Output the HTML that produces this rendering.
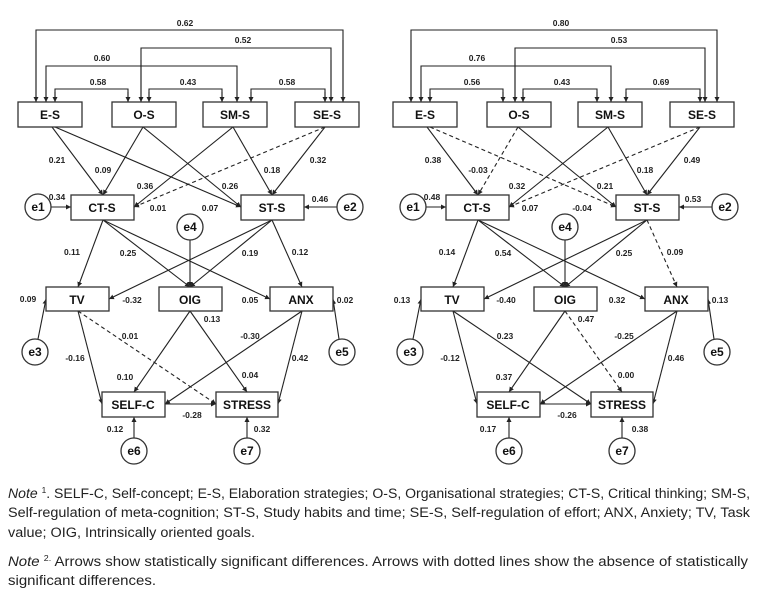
<!DOCTYPE html>
<html><head><meta charset="utf-8"><style>
body{margin:0;background:#fff;width:762px;height:605px;overflow:hidden}
svg{display:block}
.b{fill:#fff;stroke:#333;stroke-width:1.3}
.l{stroke:#222;stroke-width:1.1;fill:none;marker-end:url(#a)}
.d{stroke:#222;stroke-width:1.1;fill:none;stroke-dasharray:4 3;marker-end:url(#a)}
.br{stroke:#222;stroke-width:1.1;fill:none}
.n{font:bold 12px "Liberation Sans",sans-serif;text-anchor:middle;fill:#111}
.v{font:bold 8.5px "Liberation Sans",sans-serif;text-anchor:middle;fill:#222}
.t{font:13.5px "Liberation Sans",sans-serif;fill:#222}
</style></head><body>
<svg width="762" height="605" viewBox="0 0 762 605">
<defs><marker id="a" markerWidth="6" markerHeight="6" refX="5" refY="3" orient="auto" markerUnits="userSpaceOnUse"><path d="M0,0.5 L5,3 L0,5.5z" fill="#222"/></marker></defs>

<path class="br" d="M36,102V30H343V102"/><path class="l" d="M36,40V102"/><path class="l" d="M343,40V102"/>
<path class="br" d="M141,102V48H331V102"/><path class="l" d="M141,60V102"/><path class="l" d="M331,60V102"/>
<path class="br" d="M46,102V66H237V102"/><path class="l" d="M46,80V102"/><path class="l" d="M237,80V102"/>
<path class="br" d="M55,102V89H128V102"/><path class="l" d="M55,92V102"/><path class="l" d="M128,92V102"/>
<path class="br" d="M149,102V89H222V102"/><path class="l" d="M149,92V102"/><path class="l" d="M222,92V102"/>
<path class="br" d="M251,102V89H325V102"/><path class="l" d="M251,92V102"/><path class="l" d="M325,92V102"/>
<text class="v" x="185" y="26">0.62</text><text class="v" x="243" y="43">0.52</text><text class="v" x="102" y="61">0.60</text>
<text class="v" x="98" y="85">0.58</text><text class="v" x="188" y="85">0.43</text><text class="v" x="287" y="85">0.58</text>

<path class="l" d="M52,127L103,195"/><path class="l" d="M55,127L241,207"/>
<path class="l" d="M143,127L103,195"/><path class="l" d="M143,127L241,207"/>
<path class="l" d="M233,127L134,207"/><path class="l" d="M233,127L272,195"/>
<path class="d" d="M325,127L134,207"/><path class="l" d="M325,127L272,195"/>
<path class="l" d="M103,220L78,287"/><path class="l" d="M103,220L190,287"/><path class="l" d="M103,220L270,299"/>
<path class="l" d="M272,220L109,299"/><path class="l" d="M272,220L190,287"/><path class="l" d="M272,220L302,287"/>
<path class="l" d="M190,240L190,287"/>
<path class="l" d="M78,311L102,404"/><path class="d" d="M78,311L216,404"/>
<path class="l" d="M190,311L134,392"/><path class="l" d="M190,311L247,392"/>
<path class="l" d="M302,311L165,404"/><path class="l" d="M302,311L278,404"/>
<path class="l" d="M165,404L216,404"/>
<path class="l" d="M51,207L71,207"/><path class="l" d="M337,207L304,207"/>
<path class="l" d="M38,339L46,299"/><path class="l" d="M339,339L333,299"/>
<path class="l" d="M134,438L134,417"/><path class="l" d="M247,438L247,417"/>

<rect class="b" x="18" y="102" width="64" height="25"/><text class="n" x="50" y="119">E-S</text>
<rect class="b" x="112" y="102" width="64" height="25"/><text class="n" x="144" y="119">O-S</text>
<rect class="b" x="203" y="102" width="64" height="25"/><text class="n" x="235" y="119">SM-S</text>
<rect class="b" x="295" y="102" width="64" height="25"/><text class="n" x="327" y="119">SE-S</text>
<rect class="b" x="71" y="195" width="63" height="25"/><text class="n" x="102" y="212">CT-S</text>
<rect class="b" x="241" y="195" width="63" height="25"/><text class="n" x="272" y="212">ST-S</text>
<rect class="b" x="46" y="287" width="63" height="24"/><text class="n" x="77" y="304">TV</text>
<rect class="b" x="159" y="287" width="63" height="24"/><text class="n" x="190" y="304">OIG</text>
<rect class="b" x="270" y="287" width="63" height="24"/><text class="n" x="301" y="304">ANX</text>
<rect class="b" x="102" y="392" width="63" height="25"/><text class="n" x="133" y="409">SELF-C</text>
<rect class="b" x="216" y="392" width="62" height="25"/><text class="n" x="247" y="409">STRESS</text>
<circle class="b" cx="38" cy="207" r="13"/><text class="n" x="38" y="211">e1</text>
<circle class="b" cx="350" cy="207" r="13"/><text class="n" x="350" y="211">e2</text>
<circle class="b" cx="190" cy="227" r="13"/><text class="n" x="190" y="231">e4</text>
<circle class="b" cx="35" cy="352" r="13"/><text class="n" x="35" y="356">e3</text>
<circle class="b" cx="342" cy="352" r="13"/><text class="n" x="342" y="356">e5</text>
<circle class="b" cx="134" cy="451" r="13"/><text class="n" x="134" y="455">e6</text>
<circle class="b" cx="247" cy="451" r="13"/><text class="n" x="247" y="455">e7</text>

<text class="v" x="57" y="163">0.21</text><text class="v" x="103" y="173">0.09</text><text class="v" x="145" y="189">0.36</text>
<text class="v" x="230" y="189">0.26</text><text class="v" x="272" y="173">0.18</text><text class="v" x="318" y="163">0.32</text>
<text class="v" x="57" y="200">0.34</text><text class="v" x="158" y="211">0.01</text><text class="v" x="210" y="211">0.07</text><text class="v" x="320" y="202">0.46</text>
<text class="v" x="72" y="255">0.11</text><text class="v" x="128" y="256">0.25</text><text class="v" x="250" y="256">0.19</text><text class="v" x="300" y="255">0.12</text>
<text class="v" x="28" y="302">0.09</text><text class="v" x="132" y="303">-0.32</text><text class="v" x="250" y="303">0.05</text><text class="v" x="345" y="303">0.02</text>
<text class="v" x="212" y="322">0.13</text><text class="v" x="130" y="339">0.01</text><text class="v" x="250" y="339">-0.30</text>
<text class="v" x="75" y="361">-0.16</text><text class="v" x="300" y="361">0.42</text><text class="v" x="125" y="380">0.10</text><text class="v" x="250" y="378">0.04</text>
<text class="v" x="192" y="418">-0.28</text><text class="v" x="115" y="432">0.12</text><text class="v" x="262" y="432">0.32</text>

<path class="br" d="M411,102V30H717V102"/><path class="l" d="M411,40V102"/><path class="l" d="M717,40V102"/>
<path class="br" d="M515,102V48H705V102"/><path class="l" d="M515,60V102"/><path class="l" d="M705,60V102"/>
<path class="br" d="M421,102V66H611V102"/><path class="l" d="M421,80V102"/><path class="l" d="M611,80V102"/>
<path class="br" d="M430,102V89H503V102"/><path class="l" d="M430,92V102"/><path class="l" d="M503,92V102"/>
<path class="br" d="M523,102V89H597V102"/><path class="l" d="M523,92V102"/><path class="l" d="M597,92V102"/>
<path class="br" d="M626,102V89H700V102"/><path class="l" d="M626,92V102"/><path class="l" d="M700,92V102"/>
<text class="v" x="561" y="26">0.80</text><text class="v" x="619" y="43">0.53</text><text class="v" x="477" y="61">0.76</text>
<text class="v" x="472" y="85">0.56</text><text class="v" x="562" y="85">0.43</text><text class="v" x="661" y="85">0.69</text>

<g transform="translate(375,0)">
<path class="l" d="M52,127L103,195"/><path class="d" d="M55,127L241,207"/>
<path class="d" d="M143,127L103,195"/><path class="l" d="M143,127L241,207"/>
<path class="l" d="M233,127L134,207"/><path class="l" d="M233,127L272,195"/>
<path class="d" d="M325,127L134,207"/><path class="l" d="M325,127L272,195"/>
<path class="l" d="M103,220L78,287"/><path class="l" d="M103,220L190,287"/><path class="l" d="M103,220L270,299"/>
<path class="l" d="M272,220L109,299"/><path class="l" d="M272,220L190,287"/><path class="d" d="M272,220L302,287"/>
<path class="l" d="M190,240L190,287"/>
<path class="l" d="M78,311L102,404"/><path class="l" d="M78,311L216,404"/>
<path class="l" d="M190,311L134,392"/><path class="d" d="M190,311L247,392"/>
<path class="l" d="M302,311L165,404"/><path class="l" d="M302,311L278,404"/>
<path class="l" d="M165,404L216,404"/>
<path class="l" d="M51,207L71,207"/><path class="l" d="M337,207L304,207"/>
<path class="l" d="M38,339L46,299"/><path class="l" d="M339,339L333,299"/>
<path class="l" d="M134,438L134,417"/><path class="l" d="M247,438L247,417"/>
<rect class="b" x="18" y="102" width="64" height="25"/><text class="n" x="50" y="119">E-S</text>
<rect class="b" x="112" y="102" width="64" height="25"/><text class="n" x="144" y="119">O-S</text>
<rect class="b" x="203" y="102" width="64" height="25"/><text class="n" x="235" y="119">SM-S</text>
<rect class="b" x="295" y="102" width="64" height="25"/><text class="n" x="327" y="119">SE-S</text>
<rect class="b" x="71" y="195" width="63" height="25"/><text class="n" x="102" y="212">CT-S</text>
<rect class="b" x="241" y="195" width="63" height="25"/><text class="n" x="272" y="212">ST-S</text>
<rect class="b" x="46" y="287" width="63" height="24"/><text class="n" x="77" y="304">TV</text>
<rect class="b" x="159" y="287" width="63" height="24"/><text class="n" x="190" y="304">OIG</text>
<rect class="b" x="270" y="287" width="63" height="24"/><text class="n" x="301" y="304">ANX</text>
<rect class="b" x="102" y="392" width="63" height="25"/><text class="n" x="133" y="409">SELF-C</text>
<rect class="b" x="216" y="392" width="62" height="25"/><text class="n" x="247" y="409">STRESS</text>
<circle class="b" cx="38" cy="207" r="13"/><text class="n" x="38" y="211">e1</text>
<circle class="b" cx="350" cy="207" r="13"/><text class="n" x="350" y="211">e2</text>
<circle class="b" cx="190" cy="227" r="13"/><text class="n" x="190" y="231">e4</text>
<circle class="b" cx="35" cy="352" r="13"/><text class="n" x="35" y="356">e3</text>
<circle class="b" cx="342" cy="352" r="13"/><text class="n" x="342" y="356">e5</text>
<circle class="b" cx="134" cy="451" r="13"/><text class="n" x="134" y="455">e6</text>
<circle class="b" cx="247" cy="451" r="13"/><text class="n" x="247" y="455">e7</text>
</g>

<text class="v" x="433" y="163">0.38</text><text class="v" x="478" y="173">-0.03</text><text class="v" x="517" y="189">0.32</text>
<text class="v" x="605" y="189">0.21</text><text class="v" x="645" y="173">0.18</text><text class="v" x="692" y="163">0.49</text>
<text class="v" x="432" y="200">0.48</text><text class="v" x="530" y="211">0.07</text><text class="v" x="582" y="211">-0.04</text><text class="v" x="693" y="202">0.53</text>
<text class="v" x="447" y="255">0.14</text><text class="v" x="503" y="256">0.54</text><text class="v" x="624" y="256">0.25</text><text class="v" x="675" y="255">0.09</text>
<text class="v" x="402" y="303">0.13</text><text class="v" x="506" y="303">-0.40</text><text class="v" x="617" y="303">0.32</text><text class="v" x="720" y="303">0.13</text>
<text class="v" x="586" y="322">0.47</text><text class="v" x="505" y="339">0.23</text><text class="v" x="624" y="339">-0.25</text>
<text class="v" x="450" y="361">-0.12</text><text class="v" x="676" y="361">0.46</text><text class="v" x="504" y="380">0.37</text><text class="v" x="626" y="378">0.00</text>
<text class="v" x="567" y="418">-0.26</text><text class="v" x="488" y="432">0.17</text><text class="v" x="640" y="432">0.38</text>

<text class="t" x="8" y="498" textLength="742" lengthAdjust="spacingAndGlyphs"><tspan font-style="italic">Note</tspan> <tspan font-size="8" dy="-5">1</tspan><tspan dy="5">. SELF-C, Self-concept; E-S, Elaboration strategies; O-S, Organisational strategies; CT-S, Critical thinking; SM-S,</tspan></text>
<text class="t" x="8" y="517" textLength="742" lengthAdjust="spacingAndGlyphs">Self-regulation of meta-cognition; ST-S, Study habits and time; SE-S, Self-regulation of effort; ANX, Anxiety; TV, Task</text>
<text class="t" x="8" y="537" textLength="247" lengthAdjust="spacingAndGlyphs">value; OIG, Intrinsically oriented goals.</text>
<text class="t" x="8" y="566" textLength="740" lengthAdjust="spacingAndGlyphs"><tspan font-style="italic">Note</tspan> <tspan font-size="8" dy="-5">2.</tspan><tspan dy="5"> Arrows show statistically significant differences. Arrows with dotted lines show the absence of statistically</tspan></text>
<text class="t" x="8" y="585" textLength="148" lengthAdjust="spacingAndGlyphs">significant differences.</text>
</svg>
</body></html>
